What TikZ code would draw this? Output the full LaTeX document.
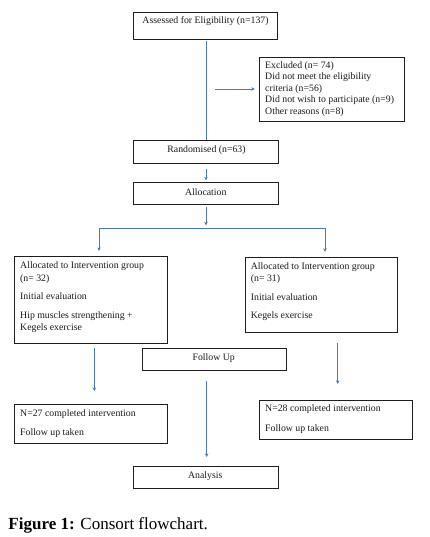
\documentclass[tikz,border=0pt]{standalone}
\usepackage{fontspec}
\setmainfont{Liberation Serif}
\usetikzlibrary{arrows.meta,calc}
\definecolor{boxline}{RGB}{30,30,30}
\definecolor{arrowblue}{RGB}{74,122,188}
\begin{document}
\begin{tikzpicture}[x=1pt,y=-1pt,
  box/.style={draw=boxline,line width=0.8pt,rectangle,inner sep=0pt},
  txt/.style={inner sep=0pt,font=\fontsize{9.8}{11.3}\selectfont,text=black!90},
  conn/.style={draw=arrowblue,line width=0.8pt},
  arr/.style={conn,-{Stealth[length=3.5pt,width=3.5pt]}}]
\useasboundingbox (0,0) rectangle (430,537);
% boxes
\node[box,minimum width=144pt,minimum height=27pt] (b1) at (205,25.5) {};
\node[box,minimum width=144.7pt,minimum height=63.7pt] (excl) at (331.6,89.15) {};
\node[box,minimum width=145pt,minimum height=23pt] (rand) at (205.5,151.5) {};
\node[box,minimum width=145pt,minimum height=22pt] (alloc) at (205.5,193.3) {};
\node[box,minimum width=153pt,minimum height=87pt] (lbox) at (90.8,299.8) {};
\node[box,minimum width=152.4pt,minimum height=74.6pt] (rbox) at (321.5,295) {};
\node[box,minimum width=144.4pt,minimum height=22pt] (fu) at (214.5,359.3) {};
\node[box,minimum width=153pt,minimum height=39pt] (lbot) at (90.8,423.8) {};
\node[box,minimum width=153.4pt,minimum height=39.3pt] (rbot) at (336,419.65) {};
\node[box,minimum width=145pt,minimum height=22.3pt] (ana) at (205.8,477.15) {};
% texts
\node[txt,anchor=base] (t1) at (205.5,23.5) {Assessed for Eligibility (n=137)};
\node[txt,anchor=base west] (e1) at (265,68.5) {Excluded (n= 74)};
\node[txt,anchor=base west] (e2) at (265,80) {Did not meet the eligibility};
\node[txt,anchor=base west] (e3) at (265,91.5) {criteria (n=56)};
\node[txt,anchor=base west] (e4) at (265,103) {Did not wish to participate (n=9)};
\node[txt,anchor=base west] (e5) at (265,114.5) {Other reasons (n=8)};
\node[txt,anchor=base] (t2) at (206.5,152.5) {Randomised (n=63)};
\node[txt,anchor=base] (t3) at (205.8,195.2) {Allocation};
\node[txt,anchor=base west] (l1) at (20,268.5) {Allocated to Intervention group};
\node[txt,anchor=base west] (l2) at (20,281.2) {(n= 32)};
\node[txt,anchor=base west] (l3) at (20,299.2) {Initial evaluation};
\node[txt,anchor=base west] (l4) at (20,318.5) {Hip muscles strengthening +};
\node[txt,anchor=base west] (l5) at (20,330.2) {Kegels exercise};
\node[txt,anchor=base west] (r1) at (250.7,269.5) {Allocated to Intervention group};
\node[txt,anchor=base west] (r2) at (250.7,281.5) {(n= 31)};
\node[txt,anchor=base west] (r3) at (250.7,300.2) {Initial evaluation};
\node[txt,anchor=base west] (r4) at (250.7,318.5) {Kegels exercise};
\node[txt,anchor=base] (t4) at (213.7,360.2) {Follow Up};
\node[txt,anchor=base west] (lb1) at (20,416.2) {N=27 completed intervention};
\node[txt,anchor=base west] (lb2) at (20,435.2) {Follow up taken};
\node[txt,anchor=base west] (rb1) at (265,411.8) {N=28 completed intervention};
\node[txt,anchor=base west] (rb2) at (265,431.2) {Follow up taken};
\node[txt,anchor=base] (t5) at (205.3,478.5) {Analysis};
\node[inner sep=0pt,anchor=base west,font=\fontsize{17}{19}\selectfont] (cap) at (8.3,529) {\textbf{Figure 1:} Consort flowchart.};
% connectors
\coordinate (exs) at (215,89);
\coordinate (split) at (206,228.3);
\coordinate (sl) at (99,228.3);
\coordinate (sr) at (325,228.3);
\coordinate (lx) at (94.3,0);
\coordinate (mx) at (206.7,0);
\coordinate (rx) at (337.7,0);
\draw[conn] ($(b1.south)+(1,2)$) -- ($(rand.north)+(0.5,0)$);
\draw[arr] (exs) -- ($(exs -| excl.west)+(-4,0)$);
\draw[arr] ($(rand.south)+(0.5,6)$) -- ($(alloc.north)+(0.5,-1.5)$);
\draw[arr] ($(alloc.south)+(0.5,2.5)$) -- ($(split)+(0,-3)$);
\draw[conn] (sl) -- (sr);
\draw[arr] (sl) -- ($(sl |- lbox.north)+(0,-5)$);
\draw[arr] (sr) -- ($(sr |- rbox.north)+(0,-5.5)$);
\draw[arr] ($(lx |- lbox.south)+(0,4)$) -- ($(lx |- lbot.north)+(0,-13)$);
\draw[arr] ($(mx |- fu.south)+(0,10.4)$) -- ($(mx |- ana.north)+(0,-8.7)$);
\draw[arr] ($(rx |- rbox.south)+(0,10)$) -- ($(rx |- rbot.north)+(0,-15.7)$);
\end{tikzpicture}
\end{document}
